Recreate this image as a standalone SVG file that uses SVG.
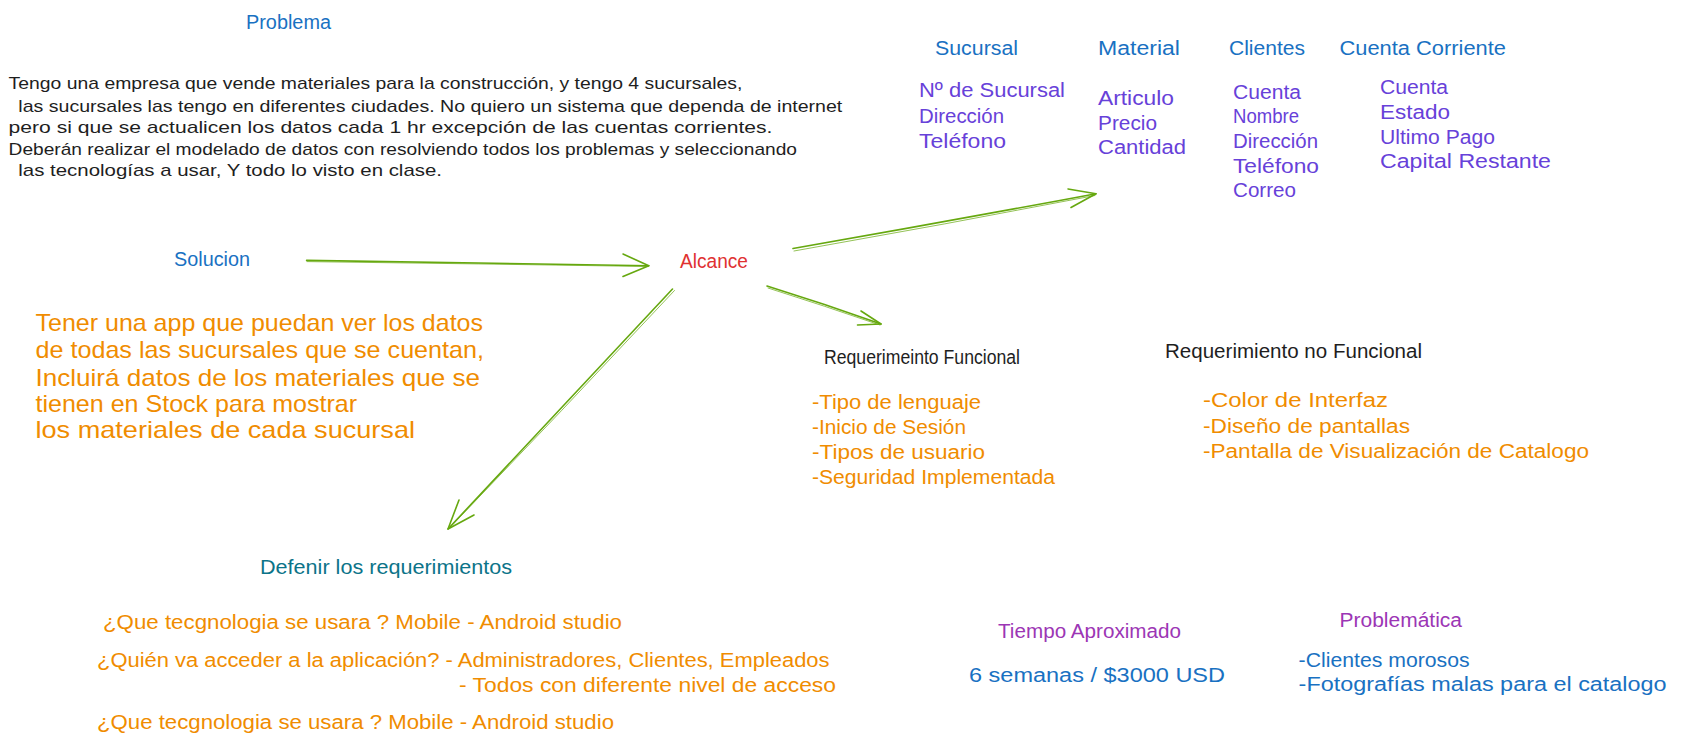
<svg xmlns="http://www.w3.org/2000/svg" width="1687" height="748" viewBox="0 0 1687 748">
<style>
text{font-family:"Liberation Sans",Arial,sans-serif;}
.t20{font-size:20px;}
.t17{font-size:17px;}
.t24{font-size:24px;}
.blue{fill:#1971c2;}
.black{fill:#1e1e1e;}
.violet{fill:#6741d9;}
.orange{fill:#f08c00;}
.red{fill:#e03131;}
.purple{fill:#9c36b5;}
.teal{fill:#0c7489;}
.arr{fill:none;stroke:#66a80f;stroke-width:1.6;stroke-linecap:round;stroke-linejoin:round;}
.arr2{fill:none;stroke:#66a80f;stroke-width:1;stroke-linecap:round;opacity:0.7;}
</style>
<rect width="1687" height="748" fill="#ffffff"/>

<g id="problema">
<text class="t20 blue" x="246" y="28.5" textLength="85" lengthAdjust="spacingAndGlyphs">Problema</text>
</g>
<g id="problema-texto">
<text class="t17 black" x="8.6" y="89" textLength="733.8" lengthAdjust="spacingAndGlyphs">Tengo una empresa que vende materiales para la construcción, y tengo 4 sucursales,</text>
<text class="t17 black" x="18.3" y="112" textLength="824" lengthAdjust="spacingAndGlyphs">las sucursales las tengo en diferentes ciudades. No quiero un sistema que dependa de internet</text>
<text class="t17 black" x="8.6" y="133" textLength="763.9" lengthAdjust="spacingAndGlyphs">pero si que se actualicen los datos cada 1 hr excepción de las cuentas corrientes.</text>
<text class="t17 black" x="8.6" y="154.5" textLength="788.4" lengthAdjust="spacingAndGlyphs">Deberán realizar el modelado de datos con resolviendo todos los problemas y seleccionando</text>
<text class="t17 black" x="18.3" y="176" textLength="423.7" lengthAdjust="spacingAndGlyphs">las tecnologías a usar, Y todo lo visto en clase.</text>
</g>

<g id="sucursal">
<text class="t20 blue" x="935" y="55" textLength="83" lengthAdjust="spacingAndGlyphs">Sucursal</text>
<text class="t20 violet" x="919" y="97" textLength="146" lengthAdjust="spacingAndGlyphs">Nº de Sucursal</text>
<text class="t20 violet" x="919" y="123" textLength="85" lengthAdjust="spacingAndGlyphs">Dirección</text>
<text class="t20 violet" x="919" y="148" textLength="87" lengthAdjust="spacingAndGlyphs">Teléfono</text>
</g>
<g id="material">
<text class="t20 blue" x="1098" y="55" textLength="82" lengthAdjust="spacingAndGlyphs">Material</text>
<text class="t20 violet" x="1098" y="105" textLength="76" lengthAdjust="spacingAndGlyphs">Articulo</text>
<text class="t20 violet" x="1098" y="130" textLength="59" lengthAdjust="spacingAndGlyphs">Precio</text>
<text class="t20 violet" x="1098" y="154" textLength="88" lengthAdjust="spacingAndGlyphs">Cantidad</text>
</g>
<g id="clientes">
<text class="t20 blue" x="1229" y="55" textLength="76" lengthAdjust="spacingAndGlyphs">Clientes</text>
<text class="t20 violet" x="1233" y="98.5" textLength="68" lengthAdjust="spacingAndGlyphs">Cuenta</text>
<text class="t20 violet" x="1233" y="123" textLength="66" lengthAdjust="spacingAndGlyphs">Nombre</text>
<text class="t20 violet" x="1233" y="148" textLength="85" lengthAdjust="spacingAndGlyphs">Dirección</text>
<text class="t20 violet" x="1233" y="173" textLength="86" lengthAdjust="spacingAndGlyphs">Teléfono</text>
<text class="t20 violet" x="1233" y="197" textLength="63" lengthAdjust="spacingAndGlyphs">Correo</text>
</g>
<g id="cuenta-corriente">
<text class="t20 blue" x="1339.5" y="55" textLength="166.5" lengthAdjust="spacingAndGlyphs">Cuenta Corriente</text>
<text class="t20 violet" x="1380" y="94" textLength="68" lengthAdjust="spacingAndGlyphs">Cuenta</text>
<text class="t20 violet" x="1380" y="119" textLength="70" lengthAdjust="spacingAndGlyphs">Estado</text>
<text class="t20 violet" x="1380" y="144" textLength="115" lengthAdjust="spacingAndGlyphs">Ultimo Pago</text>
<text class="t20 violet" x="1380" y="168" textLength="171" lengthAdjust="spacingAndGlyphs">Capital Restante</text>
</g>

<g id="solucion">
<text class="t20 blue" x="174" y="266" textLength="76" lengthAdjust="spacingAndGlyphs">Solucion</text>
</g>
<g id="alcance">
<text class="t20 red" x="680" y="268" textLength="68" lengthAdjust="spacingAndGlyphs">Alcance</text>
</g>
<g id="solucion-texto">
<text class="t24 orange" x="35.5" y="331" textLength="447.5" lengthAdjust="spacingAndGlyphs">Tener una app que puedan ver los datos</text>
<text class="t24 orange" x="35.5" y="358" textLength="448.5" lengthAdjust="spacingAndGlyphs">de todas las sucursales que se cuentan,</text>
<text class="t24 orange" x="35.5" y="386" textLength="444.5" lengthAdjust="spacingAndGlyphs">Incluirá datos de los materiales que se</text>
<text class="t24 orange" x="35.5" y="412" textLength="321.5" lengthAdjust="spacingAndGlyphs">tienen en Stock para mostrar</text>
<text class="t24 orange" x="35.5" y="438" textLength="379.5" lengthAdjust="spacingAndGlyphs">los materiales de cada sucursal</text>
</g>

<g id="req-funcional">
<text class="t20 black" x="824" y="364" textLength="196" lengthAdjust="spacingAndGlyphs">Requerimeinto Funcional</text>
<text class="t20 orange" x="812" y="409" textLength="169" lengthAdjust="spacingAndGlyphs">-Tipo de lenguaje</text>
<text class="t20 orange" x="812" y="434" textLength="154" lengthAdjust="spacingAndGlyphs">-Inicio de Sesión</text>
<text class="t20 orange" x="812" y="459" textLength="173" lengthAdjust="spacingAndGlyphs">-Tipos de usuario</text>
<text class="t20 orange" x="812" y="484" textLength="243" lengthAdjust="spacingAndGlyphs">-Seguridad Implementada</text>
</g>
<g id="req-no-funcional">
<text class="t20 black" x="1165" y="358" textLength="257" lengthAdjust="spacingAndGlyphs">Requerimiento no Funcional</text>
<text class="t20 orange" x="1203" y="407" textLength="185" lengthAdjust="spacingAndGlyphs">-Color de Interfaz</text>
<text class="t20 orange" x="1203" y="433" textLength="207" lengthAdjust="spacingAndGlyphs">-Diseño de pantallas</text>
<text class="t20 orange" x="1203" y="458" textLength="386" lengthAdjust="spacingAndGlyphs">-Pantalla de Visualización de Catalogo</text>
</g>

<g id="defenir">
<text class="t20 teal" x="260" y="574" textLength="252" lengthAdjust="spacingAndGlyphs">Defenir los requerimientos</text>
<text class="t20 orange" x="103" y="629" textLength="519" lengthAdjust="spacingAndGlyphs">¿Que tecgnologia se usara ? Mobile - Android studio</text>
<text class="t20 orange" x="97" y="667" textLength="732.5" lengthAdjust="spacingAndGlyphs">¿Quién va acceder a la aplicación? - Administradores, Clientes, Empleados</text>
<text class="t20 orange" x="459" y="692" textLength="377" lengthAdjust="spacingAndGlyphs">- Todos con diferente nivel de acceso</text>
<text class="t20 orange" x="97" y="729" textLength="517" lengthAdjust="spacingAndGlyphs">¿Que tecgnologia se usara ? Mobile - Android studio</text>
</g>

<g id="tiempo">
<text class="t20 purple" x="998" y="638" textLength="183" lengthAdjust="spacingAndGlyphs">Tiempo Aproximado</text>
<text class="t20 blue" x="969" y="682" textLength="256" lengthAdjust="spacingAndGlyphs">6 semanas / $3000 USD</text>
</g>
<g id="problematica">
<text class="t20 purple" x="1339.5" y="627" textLength="122.5" lengthAdjust="spacingAndGlyphs">Problemática</text>
<text class="t20 blue" x="1298.6" y="666.5" textLength="171" lengthAdjust="spacingAndGlyphs">-Clientes morosos</text>
<text class="t20 blue" x="1298.6" y="691" textLength="368" lengthAdjust="spacingAndGlyphs">-Fotografías malas para el catalogo</text>
</g>

<g id="connectors">
<path class="arr" d="M306.6 260.4 Q480 262.5 648.8 265.7"/>
<path class="arr2" d="M307 261.6 Q480 263.8 648 266.5"/>
<path class="arr" d="M623 254 L648.8 265.7 L623 276.5"/>

<path class="arr" d="M793 248.5 Q945 222 1096 193.7"/>
<path class="arr2" d="M794 251 Q945 224.5 1095 195.5"/>
<path class="arr" d="M1068 189 L1096 193.7 L1071 207.5"/>

<path class="arr" d="M767 286 Q825 304 881 324"/>
<path class="arr2" d="M768 288 Q825 306 880 325"/>
<path class="arr" d="M861 311 L881 324 L857.5 325"/>

<path class="arr" d="M672.5 289 Q560 410 448 529"/>
<path class="arr2" d="M674.5 290.5 Q562 411 449 528.5"/>
<path class="arr" d="M459 500 L448 529 L474 515"/>
</g>
</svg>
